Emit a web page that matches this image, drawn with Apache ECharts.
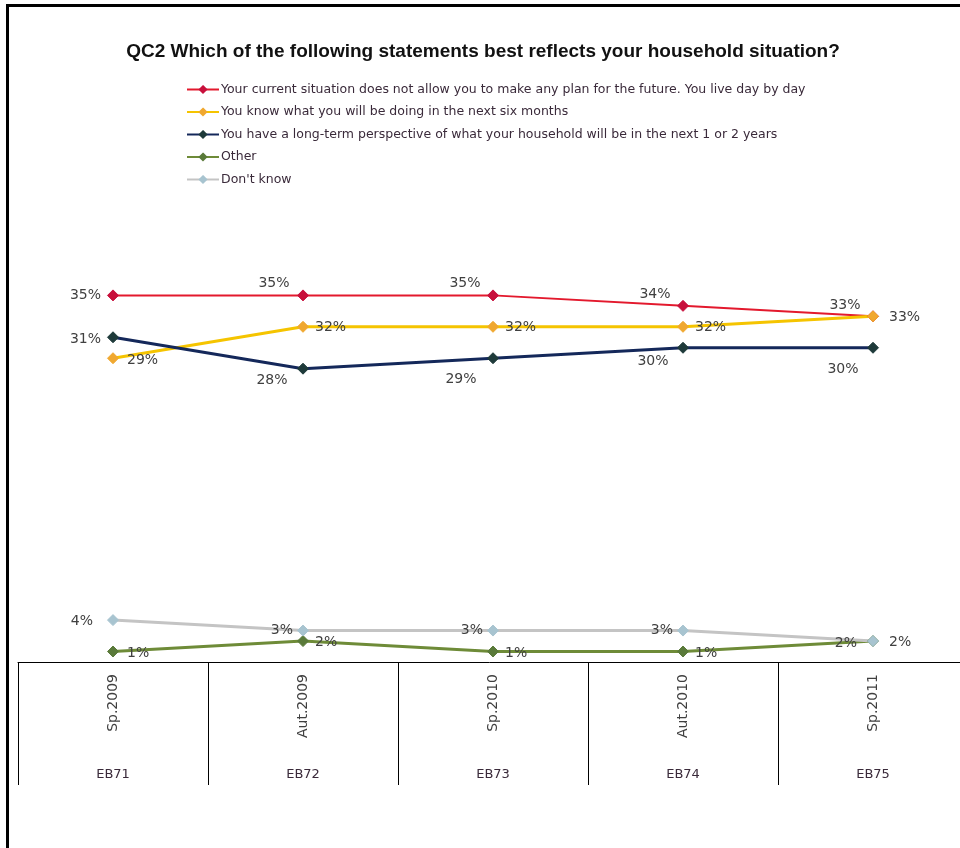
<!DOCTYPE html>
<html>
<head>
<meta charset="utf-8">
<script src="https://cdn.jsdelivr.net/npm/echarts@6/dist/echarts.min.js"></script>
<style>
  html, body { margin: 0; padding: 0; background: #fff; }
  #chart1 { width: 960px; height: 848px; }
</style>
</head>
<body>
<div id="chart1"></div>
<script>
var waves = ['Sp.2009', 'Aut.2009', 'Sp.2010', 'Aut.2010', 'Sp.2011'];
var surveys = ['EB71', 'EB72', 'EB73', 'EB74', 'EB75'];
var seriesNames = [
    'Your current situation does not allow you to make any plan for the future. You live day by day',
    'You know what you will be doing in the next six months',
    'You have a long-term perspective of what your household will be in the next 1 or 2 years',
    'Other',
    "Don't know"
];
var dayByDay = [35, 35, 35, 34, 33];
var sixMonths = [29, 32, 32, 32, 33];
var longTerm = [31, 28, 29, 30, 30];
var other = [1, 2, 1, 1, 2];
var dontKnow = [4, 3, 3, 3, 2];

var chart1 = echarts.init(document.getElementById('chart1'));
var labelFont = { fontFamily: 'DejaVu Sans', fontSize: 14, color: '#404040' };

// label placement for every point of a series
function withLabels(values, places) {
    return values.map(function (v, i) {
        var p = places[i];
        return { value: v, label: { position: p[0], offset: p[1] || [0, 0] } };
    });
}

function lineSeries(name, values, places, lineColor, markColor, width) {
    return {
        name: name,
        type: 'line',
        data: withLabels(values, places),
        symbol: 'diamond',
        symbolSize: 11,
        lineStyle: { color: lineColor, width: width },
        itemStyle: { color: markColor, borderColor: markColor, borderWidth: 1 },
        label: Object.assign({ show: true, formatter: '{c}%', distance: 4 }, labelFont),
        emphasis: { disabled: true },
        z: 3
    };
}

var option = {
    animation: false,
    title: {
        text: 'QC2 Which of the following statements best reflects your household situation?',
        left: 478,
        textAlign: 'center',
        top: 37,
        textStyle: { fontFamily: 'Liberation Sans', fontWeight: 'bold', fontSize: 19, color: '#111' }
    },
    legend: {
        orient: 'vertical',
        left: 181,
        top: 78,
        itemWidth: 32,
        itemHeight: 8,
        itemGap: 9.5,
        textStyle: { fontFamily: 'DejaVu Sans', fontSize: 12.5, color: '#3a2a3a', padding: [0, 0, 0, -3] },
        data: seriesNames
    },
    grid: { left: 18, top: 243, width: 950, height: 419, outerBoundsMode: 'none' },
    xAxis: [{
        type: 'category',
        data: waves,
        boundaryGap: true,
        axisLine: { show: true, lineStyle: { color: '#000', width: 1 } },
        axisTick: { show: true, length: 123, lineStyle: { color: '#000', width: 1 } },
        axisLabel: { rotate: 90, margin: 12, fontFamily: 'DejaVu Sans', fontSize: 14, color: '#404040' }
    }, {
        type: 'category',
        data: surveys,
        position: 'bottom',
        boundaryGap: true,
        axisLine: { show: false },
        axisTick: { show: false },
        axisLabel: { margin: 106, fontFamily: 'DejaVu Sans', fontSize: 13, color: '#3a2a3a' }
    }],
    yAxis: {
        type: 'value',
        min: 0,
        max: 40,
        show: false
    },
    series: [
        lineSeries(seriesNames[0], dayByDay,
            [['left', [-2, 0]], ['top', [-29, 5]], ['top', [-28, 5]], ['top', [-28, 6]], ['top', [-28, 6]]],
            '#e3192d', '#c8103c', 2),
        lineSeries(seriesNames[1], sixMonths,
            [['right', [4, 2]], ['right', [2, 1]], ['right', [2, 1]], ['right', [2, 1]], ['right', [6, 1]]],
            '#f5c400', '#f0a830', 3),
        lineSeries(seriesNames[2], longTerm,
            [['left', [-2, 2]], ['bottom', [-31, -5]], ['bottom', [-32, 4]], ['bottom', [-30, -3]], ['bottom', [-30, 5]]],
            '#14285a', '#1e3a3a', 3),
        lineSeries(seriesNames[3], other,
            [['right', [4, 2]], ['right', [2, 1]], ['right', [2, 2]], ['right', [2, 2]], ['left', [-6, 2]]],
            '#6e8b38', '#5a7a3a', 3),
        lineSeries(seriesNames[4], dontKnow,
            [['left', [-10, 1]], ['left'], ['left'], ['left'], ['right', [6, 1]]],
            '#c4c4c4', '#a8c4d0', 3)
    ],
    graphic: [
        { type: 'rect', shape: { x: 6, y: 4, width: 3, height: 844 }, style: { fill: '#000' } },
        { type: 'rect', shape: { x: 6, y: 4, width: 954, height: 3 }, style: { fill: '#000' } }
    ]
};
chart1.setOption(option);
</script>
</body>
</html>
